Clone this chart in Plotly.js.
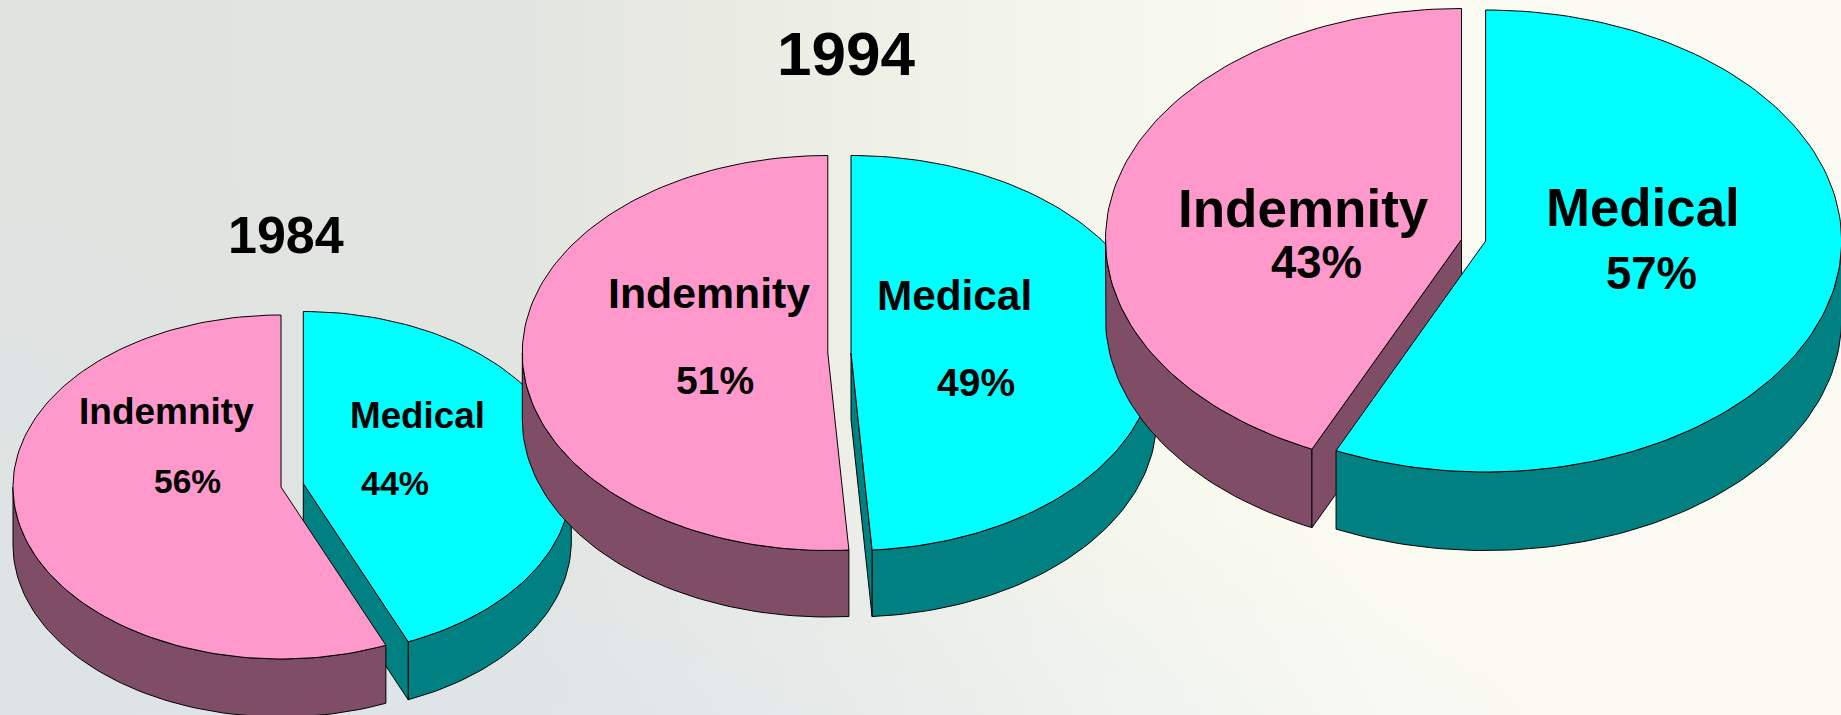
<!DOCTYPE html>
<html>
<head>
<meta charset="utf-8">
<script src="https://cdn.plot.ly/plotly-3.0.1.min.js"></script>
<style>
html,body{margin:0;padding:0;width:1841px;height:715px;overflow:hidden}
#chart{width:1841px;height:715px;
background:
 radial-gradient(ellipse 1150px 380px at 26% 112%, rgba(218,228,242,.6), rgba(218,228,242,0)),
 radial-gradient(ellipse 420px 260px at 0% 55%, rgba(220,228,236,.35), rgba(220,228,236,0)),
 linear-gradient(90deg,#dfe3df 0%,#e2e5df 28%,#ebede4 42%,#f6f7ec 60%,#fbfbf2 75%,#fbfaf3 100%);}
</style>
</head>
<body>
<div id="chart"></div>
<script>
// Data
const categories = ['Indemnity', 'Medical'];
const years = ['1984', '1994'];
const shares1984 = [56.4, 43.6];
const shares1994 = [51.1, 48.9];
const sharesLatest = [43.1, 56.9];

// Styles
const topColors = ['#FF99CC', '#00FFFF'];
const wallColors = ['#804D66', '#008080'];
const FONT = '"Liberation Sans", Arial, sans-serif';

// Pseudo-3D pie geometry (plot units = pixels)
const pies = [
  {shares: shares1984, rx: 268, ry: 172, depth: 58, apex: [[281, 487], [303.3, 483.5]]},
  {shares: shares1994, rx: 305.5, ry: 197.5, depth: 66.5, apex: [[827.8, 353], [851, 353]]},
  {shares: sharesLatest, rx: 356, ry: 231, depth: 78.5, apex: [[1461.5, 239.5], [1485.6, 241]]}
];

function rim(p, i, deg, dy) {
  const t = deg * Math.PI / 180;
  return [p.apex[i][0] + p.rx * Math.sin(t), p.apex[i][1] - p.ry * Math.cos(t) + (dy || 0)];
}
function arc(p, i, a, b, dy) {
  const out = [], n = Math.max(2, Math.ceil(Math.abs(b - a) / 1.5));
  for (let k = 0; k <= n; k++) out.push(rim(p, i, a + (b - a) * k / n, dy));
  return out;
}
function poly(pts, color) {
  return {
    type: 'scatter', mode: 'lines', fill: 'toself', fillcolor: color,
    x: pts.map(q => q[0]), y: pts.map(q => q[1]),
    line: {color: '#000', width: 1}, hoverinfo: 'skip', showlegend: false
  };
}

const traces = [];
pies.forEach(p => {
  // Slices go clockwise from 12 o'clock: Medical first, Indemnity after it.
  const cut = 360 * p.shares[1] / (p.shares[0] + p.shares[1]);
  const spans = [[cut, 360], [0, cut]];          // index 0 Indemnity, 1 Medical
  const wallOwner = cut < 180 ? 1 : 0;           // slice whose cut face is visible
  const order = [wallOwner, 1 - wallOwner];
  order.forEach(i => {
    const a = spans[i][0], b = spans[i][1];
    const fa = Math.max(a, 90), fb = Math.min(b, 270);
    if (fb > fa) {
      const wall = arc(p, i, fa, fb, 0).concat(arc(p, i, fb, fa, p.depth));
      wall.push(wall[0]);
      traces.push(poly(wall, wallColors[i]));
    }
    if (i === wallOwner) {
      const ax = p.apex[i][0], ay = p.apex[i][1], tip = rim(p, i, cut, 0);
      traces.push(poly([[ax, ay], tip, [tip[0], tip[1] + p.depth], [ax, ay + p.depth], [ax, ay]], wallColors[i]));
    }
    const top = [p.apex[i]].concat(arc(p, i, a, b, 0));
    top.push(p.apex[i]);
    traces.push(poly(top, topColors[i]));
  });
});

function label(text, x, y, size) {
  return {text: text, x: x, y: y, xref: 'x', yref: 'y', xanchor: 'center', yanchor: 'middle',
    showarrow: false, font: {family: FONT, size: size, color: '#000', weight: 700}};
}
const pct = (p, i) => Math.round(p.shares[i]) + '%';
const annotations = [
  label('<b>' + years[0] + '</b>', 286, 235, 52),
  label('<b>' + years[1] + '</b>', 846, 53, 62),
  label('<b>' + categories[0] + '</b>', 166, 411.5, 37),
  label('<b>' + categories[1] + '</b>', 417, 415, 36.8),
  label('<b>' + pct(pies[0], 0) + '</b>', 187, 481, 33.5),
  label('<b>' + pct(pies[0], 1) + '</b>', 394.5, 483, 34),
  label('<b>' + categories[0] + '</b>', 709, 292.5, 42.8),
  label('<b>' + categories[1] + '</b>', 954, 295, 42.3),
  label('<b>' + pct(pies[1], 0) + '</b>', 715, 380, 39),
  label('<b>' + pct(pies[1], 1) + '</b>', 976, 382, 39),
  label('<b>' + categories[0] + '</b>', 1303.5, 208, 53),
  label('<b>' + categories[1] + '</b>', 1642.6, 207, 52.8),
  label('<b>' + pct(pies[2], 0) + '</b>', 1316, 262, 45.5),
  label('<b>' + pct(pies[2], 1) + '</b>', 1651, 273.6, 45.5)
];

const hidden = {visible: false, fixedrange: true};
Plotly.newPlot('chart', traces, {
  width: 1841, height: 715,
  margin: {l: 0, r: 0, t: 0, b: 0},
  paper_bgcolor: 'rgba(0,0,0,0)', plot_bgcolor: 'rgba(0,0,0,0)',
  showlegend: false,
  xaxis: Object.assign({range: [0, 1841]}, hidden),
  yaxis: Object.assign({range: [715, 0]}, hidden),
  annotations: annotations
}, {displayModeBar: false, staticPlot: true});
</script>
</body>
</html>
